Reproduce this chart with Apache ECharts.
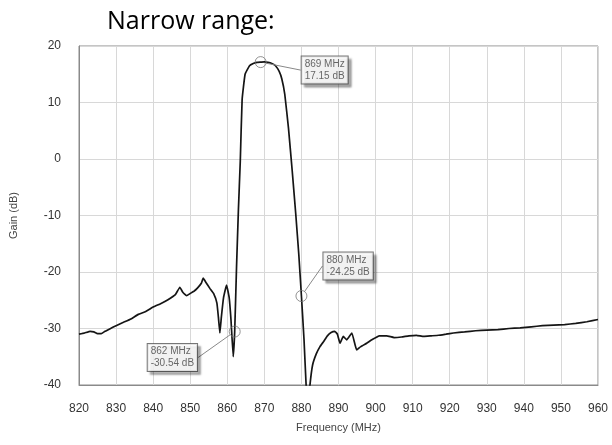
<!DOCTYPE html>
<html>
<head>
<meta charset="utf-8">
<script src="https://cdn.jsdelivr.net/npm/echarts@6/dist/echarts.min.js"></script>
<style>html,body{margin:0;padding:0;background:#fff}#c{width:612px;height:445px}</style>
</head>
<body>
<div id="c"></div>
<script>
var freq = [820, 821.5, 823, 824, 825, 826, 827, 828.5, 830, 832, 834, 836, 838, 840, 842, 844, 846, 847.2, 848, 849, 850, 851, 852, 853, 853.5, 854.2, 855.3, 856.3, 857.2, 857.6, 858, 858.4, 859, 859.8, 860.5, 861, 861.6, 862, 862.5, 863, 863.5, 864, 864.8, 866, 867, 868, 869, 870, 871, 872, 873, 874, 874.7, 875.5, 876.5, 877.5, 878.5, 879.3, 880, 880.7, 881.3, 881.8, 882.3, 883, 884, 885, 886, 887, 888, 889, 889.7, 890.4, 891.3, 892.2, 893.6, 894.9, 896, 897.6, 899, 901, 903, 905, 907, 909, 911, 913, 915, 917, 919, 921, 924, 927, 930, 933, 936, 939, 942, 945, 948, 951, 954, 957, 960];
var gain = [-31.0, -30.8, -30.5, -30.6, -30.9, -30.9, -30.5, -30.0, -29.5, -28.9, -28.3, -27.5, -27.0, -26.2, -25.6, -24.9, -24.0, -22.7, -23.6, -24.2, -23.8, -23.4, -22.8, -22.0, -21.1, -21.8, -22.9, -23.8, -25.5, -28.0, -30.8, -28.0, -24.5, -22.3, -24.5, -28.5, -35.0, -30.54, -19.0, -9.0, -0.5, 10.5, 15.0, 16.5, 16.9, 17.1, 17.15, 17.2, 17.1, 16.9, 16.5, 15.5, 14.2, 11.5, 5.5, -2.0, -10.0, -17.0, -24.25, -32.0, -40.5, -44.0, -40.0, -36.5, -34.5, -33.2, -32.3, -31.3, -30.7, -30.5, -31.0, -32.6, -31.4, -32.0, -30.8, -33.8, -33.2, -32.6, -32.0, -31.3, -31.3, -31.6, -31.5, -31.3, -31.2, -31.4, -31.3, -31.2, -31.0, -30.8, -30.6, -30.4, -30.3, -30.2, -30.0, -29.9, -29.7, -29.5, -29.4, -29.3, -29.1, -28.8, -28.4];
var markerFreq = [862, 869, 880];
var markerGain = [-30.54, 17.15, -24.25];
var markerText = ['862 MHz\n-30.54 dB', '869 MHz\n17.15 dB', '880 MHz\n-24.25 dB'];
var xTicks = {min: 820, max: 960, interval: 10};
var yTicks = {min: -40, max: 20, interval: 10};

var labelShift = [[-87, 26], [41, 8], [22, -30]];

var curve = freq.map(function (f, i) { return [f, gain[i]]; });
var marks = markerFreq.map(function (f, i) { return {value: [f, markerGain[i]], name: markerText[i]}; });

var chart = echarts.init(document.getElementById('c'), null, {renderer: 'canvas'});
var font = 'Arial, "Liberation Sans", sans-serif';
chart.setOption({
  animation: false,
  title: {
    text: 'Narrow range:', left: 102, top: 4,
    textStyle: {fontFamily: '"Open Sans", sans-serif', fontSize: 25, fontWeight: 'normal', color: '#000'}
  },
  grid: {left: 79, right: 14, top: 46, bottom: 60, show: true, borderColor: '#8a8a8a', borderWidth: 1},
  xAxis: {
    type: 'value', min: xTicks.min, max: xTicks.max, interval: xTicks.interval,
    name: 'Frequency (MHz)', nameLocation: 'middle', nameGap: 37,
    nameTextStyle: {fontFamily: font, fontSize: 11, color: '#444'},
    axisLine: {show: true, onZero: false, lineStyle: {color: '#8a8a8a'}},
    axisTick: {show: false},
    axisLabel: {margin: 18, fontFamily: font, fontSize: 12, color: '#333'},
    splitLine: {show: true, lineStyle: {color: '#d8d8d8', width: 1}}
  },
  yAxis: {
    type: 'value', min: yTicks.min, max: yTicks.max, interval: yTicks.interval,
    name: 'Gain (dB)', nameLocation: 'middle', nameGap: 60,
    nameTextStyle: {fontFamily: font, fontSize: 11, color: '#444'},
    axisLine: {show: true, onZero: false, lineStyle: {color: '#8a8a8a'}},
    axisTick: {show: false},
    axisLabel: {margin: 18, fontFamily: font, fontSize: 12, color: '#333'},
    splitLine: {show: true, lineStyle: {color: '#d8d8d8', width: 1}}
  },
  series: [
    {
      type: 'line', data: curve, showSymbol: false, symbol: 'none', clip: true,
      smooth: 0.1,
      lineStyle: {color: '#151515', width: 1.7}
    },
    {
      type: 'scatter', data: marks, symbol: 'circle', symbolSize: 11,
      itemStyle: {color: 'rgba(255,255,255,0)', borderColor: '#777', borderWidth: 1},
      z: 5,
      label: {
        show: true, position: 'inside', formatter: function (p) { return p.name; },
        fontFamily: font, fontSize: 10, color: '#444', lineHeight: 12, align: 'left',
        backgroundColor: '#fff', borderColor: '#555', borderWidth: 1, padding: [2, 3, 1, 3],
        shadowColor: 'rgba(0,0,0,0.35)', shadowOffsetX: 3, shadowOffsetY: 3, shadowBlur: 2
      },
      labelLine: {show: true, lineStyle: {color: '#888', width: 1}},
      labelLayout: function (p) { var s = labelShift[p.dataIndex]; return {dx: s[0], dy: s[1]}; }
    }
  ]
});
</script>
</body>
</html>
